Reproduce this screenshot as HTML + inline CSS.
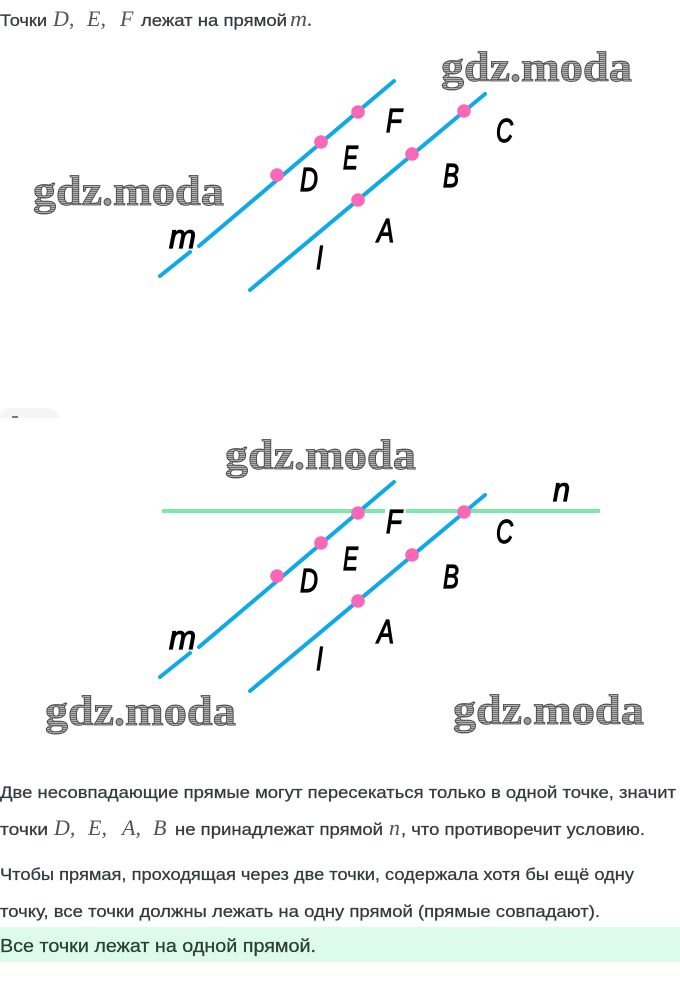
<!DOCTYPE html>
<html lang="ru">
<head>
<meta charset="utf-8">
<title>Точки на прямой</title>
<style>
html,body{margin:0;padding:0;background:#fff;width:680px;height:997px;overflow:hidden}
svg{display:block}
.t{font-family:"Liberation Sans",sans-serif;font-size:16.5px;fill:#333a3a;stroke:#333a3a;stroke-width:.25}
.v{font-family:"Liberation Serif",serif;font-style:italic;font-size:22px;fill:#555}
.l{font-family:"Liberation Sans",sans-serif;font-style:italic;font-size:33px;font-weight:400;fill:#000;stroke:#000;stroke-width:1.2}
.w{font-family:"Liberation Serif",serif;font-weight:700;font-size:42px;fill:url(#h);stroke:#444;stroke-width:.8}
.b{stroke:#0ea9e6;stroke-width:4;stroke-linecap:round;fill:none}
.g{stroke:#7ee8a6;stroke-width:4;fill:none}
.p{fill:#f968b8}
</style>
</head>
<body>
<svg xmlns="http://www.w3.org/2000/svg" width="680" height="997" viewBox="0 0 680 997">
<defs>
<pattern id="h" width="3" height="2" patternUnits="userSpaceOnUse">
<rect width="3" height="2" fill="#b0b0b0"/>
<rect width="3" height="1" fill="#707070"/>
</pattern>
<g id="fig">
<path class="b" d="M160 276L190 252M199 246L394 81"/>
<path class="b" d="M250 290L485 94"/>
<circle class="p" cx="277" cy="175" r="6.800"/>
<circle class="p" cx="321" cy="142" r="6.800"/>
<circle class="p" cx="358" cy="112" r="6.800"/>
<circle class="p" cx="358" cy="200" r="6.800"/>
<circle class="p" cx="412" cy="154" r="6.800"/>
<circle class="p" cx="464" cy="111" r="6.800"/>
</g>
<g id="lab">
<text class="l" x="386" y="132" textLength="16" lengthAdjust="spacingAndGlyphs">F</text>
<text class="l" x="496" y="142" textLength="17" lengthAdjust="spacingAndGlyphs">C</text>
<text class="l" x="343" y="169" textLength="15" lengthAdjust="spacingAndGlyphs">E</text>
<text class="l" x="443" y="187" textLength="16" lengthAdjust="spacingAndGlyphs">B</text>
<text class="l" x="377" y="242" textLength="17" lengthAdjust="spacingAndGlyphs">A</text>
<text class="l" x="300" y="191" textLength="18" lengthAdjust="spacingAndGlyphs">D</text>
<text class="l" x="316" y="269" textLength="7" lengthAdjust="spacingAndGlyphs">I</text>
<text class="l" x="169" y="248" textLength="27" lengthAdjust="spacingAndGlyphs">m</text>
</g>
<g id="wm">
<text class="w" x="0" y="0" textLength="69" lengthAdjust="spacingAndGlyphs">gdz</text>
<circle cx="74.500" cy="-3" r="3.500" fill="#999" stroke="#444" stroke-width=".9"/>
<text class="w" x="80" y="0" textLength="111" lengthAdjust="spacingAndGlyphs">moda</text>
</g>
</defs>

<text class="t" x="0" y="26" textLength="47" lengthAdjust="spacingAndGlyphs">Точки</text>
<text class="v" x="53" y="26">D,</text>
<text class="v" x="87" y="26">E,</text>
<text class="v" x="120" y="26">F</text>
<text class="t" x="141" y="26" textLength="146" lengthAdjust="spacingAndGlyphs">лежат на прямой</text>
<text class="v" x="290" y="26" textLength="23" lengthAdjust="spacingAndGlyphs">m.</text>

<use href="#fig"/>
<use href="#lab"/>
<use href="#wm" x="441" y="81"/>
<use href="#wm" x="33" y="205"/>

<path d="M0 418V416Q2 408 12 408H48Q56 408 60 418Z" fill="#f5f5f5"/>
<rect x="12" y="416" width="6" height="2" fill="#777"/>

<path class="g" d="M162 511H385M405.500 511H600"/>
<g transform="translate(0 401)">
<use href="#fig"/>
<use href="#lab"/>
</g>
<text class="l" x="553" y="501" textLength="17" lengthAdjust="spacingAndGlyphs">n</text>
<use href="#wm" x="225" y="469"/>
<use href="#wm" x="45" y="725"/>
<use href="#wm" x="453" y="724"/>

<text class="t" x="0" y="798" textLength="676" lengthAdjust="spacingAndGlyphs">Две несовпадающие прямые могут пересекаться только в одной точке, значит</text>
<text class="t" x="0" y="835" textLength="48" lengthAdjust="spacingAndGlyphs">точки</text>
<text class="v" x="54" y="835">D,</text>
<text class="v" x="88" y="835">E,</text>
<text class="v" x="122" y="835">A,</text>
<text class="v" x="153" y="835">B</text>
<text class="t" x="175" y="835" textLength="208" lengthAdjust="spacingAndGlyphs">не принадлежат прямой</text>
<text class="v" x="389" y="835">n</text>
<text class="t" x="401" y="835" textLength="244" lengthAdjust="spacingAndGlyphs">, что противоречит условию.</text>
<text class="t" x="0" y="880" textLength="634" lengthAdjust="spacingAndGlyphs">Чтобы прямая, проходящая через две точки, содержала хотя бы ещё одну</text>
<text class="t" x="0" y="917" textLength="600" lengthAdjust="spacingAndGlyphs">точку, все точки должны лежать на одну прямой (прямые совпадают).</text>

<rect x="0" y="927" width="680" height="35" fill="#dcfce9"/>
<text class="t" x="0" y="952" textLength="316" lengthAdjust="spacingAndGlyphs" style="font-size:18px;fill:#2c3c36;stroke:#2c3c36">Все точки лежат на одной прямой.</text>
</svg>
</body>
</html>
